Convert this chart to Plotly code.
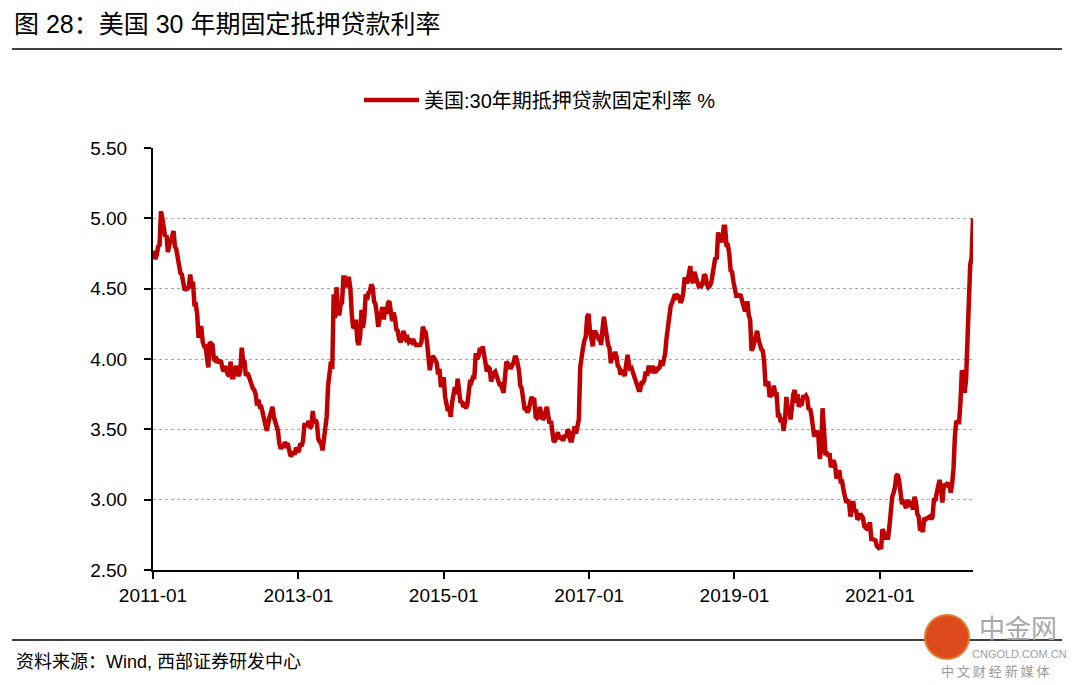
import plotly.graph_objects as go
import pandas as pd

# Weekly 30-year fixed mortgage rate (%), one list per year
rates_2011 = [4.77, 4.71, 4.74, 4.80, 4.81, 5.05, 5.00, 4.95, 4.87, 4.88, 4.76, 4.81, 4.86,
              4.87, 4.91, 4.80, 4.78, 4.71, 4.63, 4.61, 4.60, 4.55, 4.49, 4.50, 4.50, 4.51,
              4.60, 4.52, 4.55, 4.39, 4.39, 4.32, 4.15, 4.22, 4.22, 4.12, 4.09, 4.09, 4.01,
              3.94, 4.12, 4.11, 4.10, 4.00, 3.99, 4.00, 3.98, 3.98, 3.99, 3.94, 3.91, 3.95]
rates_2012 = [3.91, 3.89, 3.88, 3.98, 3.87, 3.87, 3.92, 3.95, 3.90, 3.88, 3.92, 4.08, 3.99,
              3.98, 3.88, 3.90, 3.88, 3.84, 3.83, 3.79, 3.78, 3.75, 3.67, 3.71, 3.66, 3.66,
              3.62, 3.56, 3.53, 3.49, 3.55, 3.59, 3.62, 3.66, 3.59, 3.55, 3.50, 3.49, 3.40,
              3.36, 3.39, 3.37, 3.41, 3.39, 3.40, 3.34, 3.31, 3.32, 3.34, 3.32, 3.37, 3.35]
rates_2013 = [3.34, 3.40, 3.38, 3.42, 3.53, 3.53, 3.53, 3.56, 3.51, 3.52, 3.63, 3.54, 3.57,
              3.54, 3.43, 3.41, 3.40, 3.35, 3.42, 3.51, 3.59, 3.81, 3.91, 3.98, 3.93, 4.46,
              4.29, 4.51, 4.37, 4.31, 4.39, 4.40, 4.58, 4.58, 4.51, 4.57, 4.57, 4.50, 4.32,
              4.22, 4.23, 4.28, 4.13, 4.10, 4.16, 4.35, 4.22, 4.29, 4.46, 4.42, 4.47, 4.48]
rates_2014 = [4.53, 4.51, 4.41, 4.39, 4.32, 4.23, 4.28, 4.33, 4.37, 4.28, 4.37, 4.32, 4.40,
              4.41, 4.34, 4.27, 4.33, 4.29, 4.21, 4.20, 4.14, 4.12, 4.14, 4.20, 4.17, 4.14,
              4.15, 4.12, 4.13, 4.12, 4.14, 4.12, 4.10, 4.10, 4.10, 4.10, 4.12, 4.23, 4.20,
              4.19, 4.12, 3.97, 3.92, 3.98, 4.02, 4.01, 3.99, 3.97, 3.89, 3.93, 3.80, 3.83]
rates_2015 = [3.87, 3.73, 3.66, 3.63, 3.66, 3.59, 3.69, 3.76, 3.80, 3.75, 3.86, 3.78, 3.69,
              3.70, 3.66, 3.67, 3.65, 3.68, 3.80, 3.85, 3.84, 3.87, 3.87, 4.04, 4.00, 4.02,
              4.08, 4.04, 4.09, 4.04, 3.98, 3.91, 3.94, 3.93, 3.84, 3.89, 3.90, 3.91, 3.86,
              3.85, 3.82, 3.82, 3.79, 3.76, 3.87, 3.98, 3.97, 3.95, 3.93, 3.95, 3.97, 4.01,
              4.01]
rates_2016 = [3.97, 3.92, 3.81, 3.79, 3.72, 3.65, 3.65, 3.62, 3.64, 3.68, 3.73, 3.71, 3.71,
              3.59, 3.58, 3.59, 3.66, 3.61, 3.57, 3.58, 3.64, 3.66, 3.60, 3.54, 3.56, 3.48,
              3.41, 3.42, 3.45, 3.48, 3.43, 3.45, 3.43, 3.43, 3.46, 3.44, 3.50, 3.48, 3.42,
              3.42, 3.47, 3.52, 3.47, 3.54, 3.57, 3.94, 4.03, 4.08, 4.13, 4.16, 4.30, 4.32]
rates_2017 = [4.20, 4.12, 4.09, 4.19, 4.19, 4.17, 4.15, 4.16, 4.10, 4.21, 4.30, 4.23, 4.14,
              4.10, 4.08, 3.97, 4.03, 4.02, 4.05, 4.02, 3.95, 3.94, 3.89, 3.91, 3.90, 3.88,
              3.96, 4.03, 3.96, 3.92, 3.93, 3.90, 3.89, 3.86, 3.82, 3.78, 3.78, 3.83, 3.83,
              3.85, 3.91, 3.88, 3.94, 3.94, 3.90, 3.95, 3.92, 3.90, 3.94, 3.93, 3.94, 3.99]
rates_2018 = [3.95, 3.99, 4.04, 4.15, 4.22, 4.32, 4.38, 4.40, 4.43, 4.46, 4.44, 4.45, 4.44,
              4.40, 4.42, 4.47, 4.58, 4.55, 4.55, 4.61, 4.66, 4.56, 4.54, 4.62, 4.57, 4.55,
              4.52, 4.53, 4.52, 4.54, 4.60, 4.59, 4.53, 4.51, 4.52, 4.54, 4.60, 4.65, 4.72,
              4.71, 4.90, 4.85, 4.86, 4.83, 4.94, 4.94, 4.81, 4.81, 4.75, 4.63, 4.62, 4.55]
rates_2019 = [4.51, 4.45, 4.45, 4.45, 4.46, 4.41, 4.37, 4.35, 4.35, 4.41, 4.31, 4.28, 4.06,
              4.08, 4.12, 4.17, 4.20, 4.14, 4.10, 4.07, 4.06, 3.99, 3.82, 3.82, 3.84, 3.73,
              3.75, 3.75, 3.81, 3.75, 3.75, 3.60, 3.60, 3.55, 3.58, 3.49, 3.56, 3.73, 3.64,
              3.65, 3.57, 3.69, 3.75, 3.78, 3.69, 3.75, 3.66, 3.68, 3.68, 3.73, 3.73, 3.74]
rates_2020 = [3.72, 3.64, 3.65, 3.60, 3.51, 3.45, 3.47, 3.49, 3.45, 3.29, 3.36, 3.65, 3.50,
              3.33, 3.33, 3.31, 3.33, 3.23, 3.26, 3.28, 3.24, 3.15, 3.18, 3.21, 3.13, 3.13,
              3.07, 3.03, 2.98, 2.99, 2.98, 2.88, 2.96, 2.99, 2.91, 2.93, 2.86, 2.87, 2.90,
              2.88, 2.87, 2.81, 2.80, 2.81, 2.78, 2.84, 2.72, 2.72, 2.71, 2.71, 2.67, 2.66,
              2.67]
rates_2021 = [2.65, 2.79, 2.77, 2.73, 2.73, 2.73, 2.81, 2.97, 3.02, 3.05, 3.09, 3.17, 3.18,
              3.13, 3.04, 2.97, 2.98, 2.96, 2.94, 3.00, 2.95, 2.99, 2.96, 2.93, 3.02, 2.98,
              2.90, 2.88, 2.78, 2.80, 2.77, 2.87, 2.86, 2.87, 2.87, 2.88, 2.86, 2.88, 3.01,
              2.99, 3.05, 3.09, 3.14, 3.09, 2.98, 3.10, 3.10, 3.11, 3.10, 3.12, 3.05, 3.11]
rates_2022 = [3.22, 3.45, 3.56, 3.55, 3.55, 3.69, 3.92, 3.89, 3.76, 3.85, 4.16, 4.42, 4.67,
              4.72, 5.00]

years = [2011, 2012, 2013, 2014, 2015, 2016, 2017, 2018, 2019, 2020, 2021, 2022]
yearly = [rates_2011, rates_2012, rates_2013, rates_2014, rates_2015, rates_2016,
          rates_2017, rates_2018, rates_2019, rates_2020, rates_2021, rates_2022]

series_name = "美国:30年期抵押贷款固定利率 %"
title_text = "图 28：美国 30 年期固定抵押贷款利率"
source_text = "资料来源：Wind, 西部证券研发中心"

dates, values = [], []
for yr, vals in zip(years, yearly):
    d = pd.date_range(start=f"{yr}-01-01", periods=len(vals), freq="W-THU")
    dates.extend(d)
    values.extend(vals)

# pixel -> paper helpers (plot area 153..973 x, 148..570 y)
L, R, T, B = 153, 973, 148, 570
def px(x):
    return (x - L) / (R - L)
def py(y):
    return (B - y) / (B - T)

fig = go.Figure()
fig.add_trace(go.Scatter(x=dates, y=values, mode="lines", name=series_name,
                         line=dict(color="#C00000", width=4.5)))

fig.update_layout(
    width=1080, height=685,
    margin=dict(l=L, r=1080 - R, t=T, b=685 - B, autoexpand=False),
    paper_bgcolor="white", plot_bgcolor="white",
    font=dict(family="Liberation Sans, Arial, Noto Sans CJK SC", color="#000000"),
    title=dict(text=title_text, xref="container", yref="container",
               x=14 / 1080, xanchor="left", y=1 - 24 / 685, yanchor="middle",
               font=dict(size=25, color="#000000",
                         family="Liberation Sans, Noto Sans CJK SC")),
    showlegend=True,
    legend=dict(orientation="h", xref="container", yref="container",
                x=0.5, xanchor="center", y=1 - 100 / 685, yanchor="middle",
                font=dict(size=20, family="Liberation Sans, Noto Sans CJK SC"),
                itemwidth=55, bgcolor="rgba(0,0,0,0)"),
    xaxis=dict(type="date", range=["2011-01-01", "2022-04-14"],
               tick0="2011-01-01", dtick="M24", tickformat="%Y-%m",
               ticks="outside", ticklen=7, tickwidth=2, tickcolor="#000",
               showline=True, linecolor="#000", linewidth=2,
               showgrid=False, zeroline=False,
               tickfont=dict(size=19, color="#000")),
    yaxis=dict(range=[2.5, 5.5], dtick=0.5, tick0=2.5, tickformat=".2f",
               ticks="outside", ticklen=7, tickwidth=2, tickcolor="#000",
               showline=True, linecolor="#000", linewidth=2,
               showgrid=True, gridcolor="#A6A6A6", griddash="dot", gridwidth=1,
               zeroline=False, ticklabelstandoff=13,
               tickfont=dict(size=19, color="#000")),
)

# horizontal rules under title and above source
fig.add_shape(type="line", xref="paper", yref="paper",
              x0=px(12), x1=px(1062), y0=py(49), y1=py(49),
              line=dict(color="#000", width=1.5))
fig.add_shape(type="line", xref="paper", yref="paper",
              x0=px(12), x1=px(1062), y0=py(640), y1=py(640),
              line=dict(color="#000", width=1.5))

fig.add_annotation(text=source_text, xref="paper", yref="paper",
                   x=px(14), y=py(662), xanchor="left", yanchor="middle",
                   showarrow=False,
                   font=dict(size=18, color="#000",
                             family="Liberation Sans, Noto Sans CJK SC"))

# watermark
fig.add_shape(type="circle", xref="paper", yref="paper",
              x0=px(925), x1=px(969), y0=py(659), y1=py(615),
              fillcolor="#DC4A1E", line=dict(color="#E8782A", width=2))
fig.add_annotation(text="中金网", xref="paper", yref="paper",
                   x=px(1018), y=py(626), xanchor="center", yanchor="middle",
                   showarrow=False,
                   font=dict(size=26, color="#A8A8A8", family="Noto Sans CJK SC"))
fig.add_annotation(text="CNGOLD.COM.CN", xref="paper", yref="paper",
                   x=px(1019), y=py(654), xanchor="center", yanchor="middle",
                   showarrow=False,
                   font=dict(size=11, color="#A0A0A0", family="Liberation Sans"))
fig.add_annotation(text="中 文 财 经 新 媒 体", xref="paper", yref="paper",
                   x=px(995), y=py(670), xanchor="center", yanchor="middle",
                   showarrow=False,
                   font=dict(size=13, color="#9A9A9A", family="Noto Sans CJK SC"))

fig.write_html("out.html", config={"displayModeBar": False},
               post_script="document.body.style.margin='0px';")
